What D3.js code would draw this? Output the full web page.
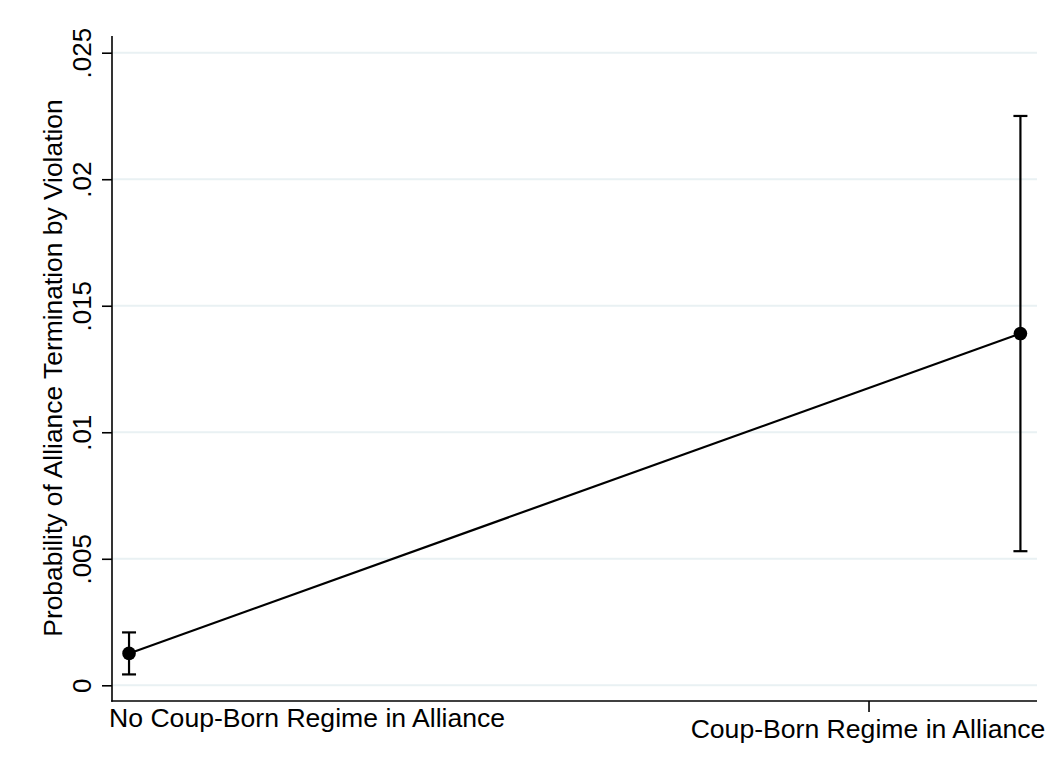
<!DOCTYPE html>
<html>
<head>
<meta charset="utf-8">
<script src="https://cdn.jsdelivr.net/npm/d3@7"></script>
<style>
  html, body { margin: 0; padding: 0; background: #fff; }
  svg { display: block; }
  text { font-family: "Liberation Sans", Arial, Helvetica, sans-serif; fill: #000; }
</style>
</head>
<body>
<svg id="chart" width="1050" height="771"></svg>
<script>
// Predicted probabilities with 95% confidence intervals
const categories = ["No Coup-Born Regime in Alliance", "Coup-Born Regime in Alliance"];
const labelPos = [0, 1];          // axis positions of the category labels
const pointPos = [0.0225, 1.2];   // axis positions of the estimates
const estimate = [0.00126, 0.0139];
const ciLow = [0.00043, 0.0053];
const ciHigh = [0.00209, 0.0225];
const yTicks = [0, 0.005, 0.01, 0.015, 0.02, 0.025];
const yTickLabels = ["0", ".005", ".01", ".015", ".02", ".025"];
const yTitle = "Probability of Alliance Termination by Violation";

const svg = d3.select("#chart");
const plotLeft = 112, plotRight = 1037, plotTop = 36, plotBottom = 701;

const x = d3.scaleLinear().domain([0, 1.2219]).range([plotLeft, plotRight]);
const y = d3.scaleLinear().domain([0, 0.025]).range([685.3, 52.7]);

// horizontal gridlines
svg.append("g").selectAll("line").data(yTicks).join("line")
  .attr("x1", plotLeft + 1).attr("x2", plotRight)
  .attr("y1", d => y(d)).attr("y2", d => y(d))
  .attr("stroke", "#e9f1f3").attr("stroke-width", 2);

// y axis
const yAxis = d3.axisLeft(y).tickValues(yTicks).tickSize(10)
  .tickFormat((d, i) => yTickLabels[i]);
const gy = svg.append("g").attr("transform", `translate(${plotLeft},0)`).call(yAxis);
gy.select(".domain").remove();
gy.selectAll(".tick line").attr("stroke", "#000").attr("stroke-width", 1.6);
gy.selectAll(".tick text")
  .attr("x", null).attr("dy", null)
  .attr("transform", "translate(-21,0) rotate(-90)")
  .attr("text-anchor", "middle")
  .attr("fill", "#000")
  .style("font-size", "26px");
svg.append("line").attr("x1", plotLeft).attr("x2", plotLeft).attr("y1", plotTop).attr("y2", plotBottom + 0.8)
  .attr("stroke", "#000").attr("stroke-width", 1.6);

// x axis
svg.append("line").attr("x1", plotLeft - 0.8).attr("x2", plotRight).attr("y1", plotBottom).attr("y2", plotBottom)
  .attr("stroke", "#000").attr("stroke-width", 1.6);
svg.append("line").attr("x1", x(labelPos[1])).attr("x2", x(labelPos[1]))
  .attr("y1", plotBottom).attr("y2", plotBottom + 11)
  .attr("stroke", "#000").attr("stroke-width", 1.6);
svg.append("text").attr("x", plotLeft - 3).attr("y", 727)
  .attr("text-anchor", "start").style("font-size", "26.6px").text(categories[0]);
svg.append("text").attr("x", x(labelPos[1]) - 1).attr("y", 738)
  .attr("text-anchor", "middle").style("font-size", "26.6px").text(categories[1]);

// y title
svg.append("text")
  .attr("transform", `translate(62,368) rotate(-90)`)
  .attr("text-anchor", "middle").style("font-size", "26.4px").text(yTitle);

// connecting line
const line = d3.line().x(d => x(pointPos[d])).y(d => y(estimate[d]));
svg.append("path").datum([0, 1]).attr("d", line)
  .attr("fill", "none").attr("stroke", "#000").attr("stroke-width", 2.2);

// confidence intervals
const ci = svg.append("g").attr("stroke", "#000").attr("stroke-width", 2.2);
estimate.forEach((e, i) => {
  const cx = x(pointPos[i]);
  ci.append("line").attr("x1", cx).attr("x2", cx).attr("y1", y(ciLow[i])).attr("y2", y(ciHigh[i]));
  [ciLow[i], ciHigh[i]].forEach(v => {
    ci.append("line").attr("x1", cx - 7).attr("x2", cx + 7).attr("y1", y(v)).attr("y2", y(v));
  });
});

// point estimates
svg.append("g").selectAll("circle").data(estimate).join("circle")
  .attr("cx", (d, i) => x(pointPos[i])).attr("cy", d => y(d))
  .attr("r", 6.8).attr("fill", "#000");
</script>
</body>
</html>
